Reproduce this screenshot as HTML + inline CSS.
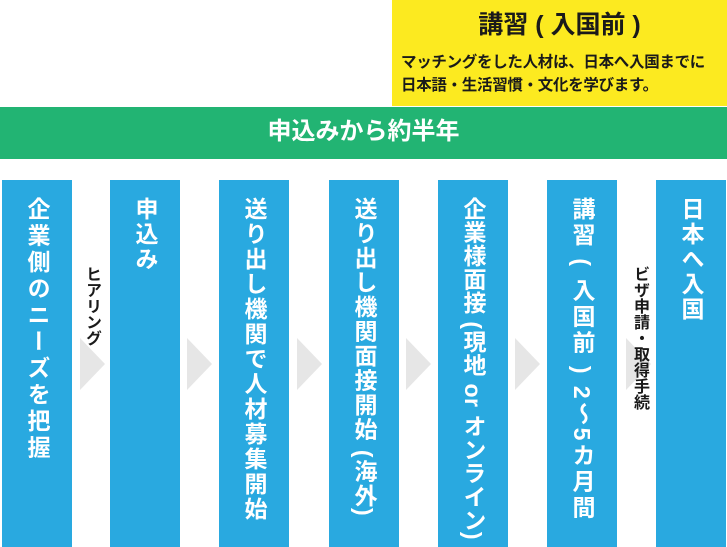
<!DOCTYPE html>
<html><head><meta charset="utf-8"><style>
body{margin:0;width:727px;height:547px;position:relative;background:#fff;overflow:hidden;font-family:"Liberation Sans","Noto Sans CJK JP",sans-serif;}
.y{position:absolute;left:392px;top:0;width:335px;height:106px;background:#fcea20;}
.y h1{margin:0;position:absolute;top:5px;left:0;width:335px;text-align:center;font-size:25px;font-weight:bold;color:#1a1a1a;white-space:nowrap;}
.y p{margin:0;position:absolute;top:51px;left:9px;font-size:15.5px;font-weight:bold;line-height:23px;color:#1a1a1a;white-space:nowrap;letter-spacing:-0.3px;}
.g{position:absolute;left:0;top:107px;width:727px;height:52px;background:#22b473;color:#fff;font-size:24px;font-weight:bold;text-align:center;line-height:50px;}
.c{position:absolute;top:180px;width:70px;height:367px;background:#29a9e0;}
.c span{position:absolute;top:17px;left:50%;transform:translateX(-50%);writing-mode:vertical-rl;color:#fff;font-size:23px;font-weight:bold;letter-spacing:2px;white-space:nowrap;}
.a{position:absolute;top:338px;width:0;height:0;border-top:26px solid transparent;border-bottom:26px solid transparent;border-left:25px solid #e6e6e6;}
.l{position:absolute;writing-mode:vertical-rl;font-size:16px;font-weight:bold;color:#1a1a1a;white-space:nowrap;}
</style></head><body>
<div class="y"><h1>講習 ( 入国前 )</h1><p>マッチングをした人材は、日本へ入国までに<br>日本語・生活習慣・文化を学びます。</p></div>
<div class="g">申込みから約半年</div>
<div class="a" style="left:80px"></div>
<div class="a" style="left:187px"></div>
<div class="a" style="left:297px"></div>
<div class="a" style="left:406px"></div>
<div class="a" style="left:515px"></div>
<div class="a" style="left:626px"></div>
<div class="c" style="left:2px"><span style="letter-spacing:3.5px">企業側のニーズを把握</span></div>
<div class="c" style="left:110px"><span>申込み</span></div>
<div class="c" style="left:219px"><span>送り出し機関で人材募集開始</span></div>
<div class="c" style="left:329px"><span style="letter-spacing:1.5px">送り出し機関面接開始 (海外)</span></div>
<div class="c" style="left:438px"><span style="letter-spacing:0.5px">企業様面接 (現地 or オンライン)</span></div>
<div class="c" style="left:547px"><span style="letter-spacing:3px">講習 ( 入国前 ) 2～5カ月間</span></div>
<div class="c" style="left:656px"><span>日本へ入国</span></div>
<div class="l" style="left:79px;top:266px">ヒアリング</div>
<div class="l" style="left:627px;top:266px">ビザ申請・取得手続</div>
</body></html>
